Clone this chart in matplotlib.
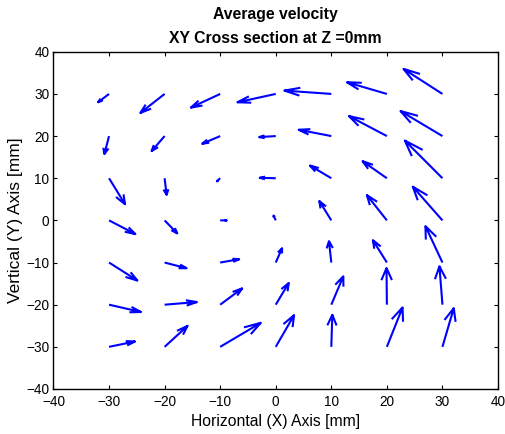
"""
Average velocity field, XY cross section at Z = 0 mm (quiver plot)
"""
import numpy as np
import matplotlib
matplotlib.use('Agg')
import matplotlib.pyplot as plt

plt.rcParams['font.family'] = ['Liberation Sans', 'DejaVu Sans']

# grid positions [mm]
x_pos = [-30, -20, -10, 0, 10, 20, 30]
y_pos = [30, 20, 10, 0, -10, -20, -30]

# horizontal velocity component (rows follow y_pos, columns follow x_pos)
u_30 = [-1.98, -4.37, -5.28, -6.90, -8.45, -7.19, -7.01]
u_20 = [-0.84, -2.34, -3.24, -3.00, -5.87, -6.83, -7.55]
u_10 = [2.88, 0.36, -0.60, -2.88, -3.84, -4.38, -6.77]
u_0 = [4.74, 2.28, 1.20, -0.40, -2.16, -3.60, -5.34]
u_m10 = [5.10, 3.96, 3.42, 1.14, -0.42, -2.52, -3.06]
u_m20 = [5.76, 5.82, 3.96, 2.34, 2.16, -0.06, -0.54]
u_m30 = [4.68, 4.14, 7.31, 3.30, 0.18, 2.82, 2.04]

# vertical velocity component
v_30 = [-1.98, -4.51, -3.25, -1.98, 0.79, 2.77, 5.94]
v_20 = [-4.27, -3.56, -1.82, -0.24, 1.50, 4.75, 5.94]
v_10 = [-6.18, -3.96, -0.75, 0.10, 3.00, 4.04, 8.94]
v_0 = [-3.25, -3.09, 0.00, 1.15, 4.59, 6.00, 8.00]
v_m10 = [-4.27, -1.35, 0.79, 3.40, 5.07, 5.30, 8.63]
v_m20 = [-1.74, 0.63, 3.88, 5.15, 6.73, 8.70, 9.10]
v_m30 = [1.27, 4.99, 5.70, 7.52, 7.60, 9.34, 9.18]

U = np.array([u_30, u_20, u_10, u_0, u_m10, u_m20, u_m30])
V = np.array([v_30, v_20, v_10, v_0, v_m10, v_m20, v_m30])
X, Y = np.meshgrid(x_pos, y_pos)

# open arrow heads built the same way as MATLAB's quiver
alpha, beta = 0.33, 0.33
eps = 1e-12
xs, ys = [], []
for x, y, u, v in zip(X.ravel(), Y.ravel(), U.ravel(), V.ravel()):
    xs += [x, x + u, np.nan]
    ys += [y, y + v, np.nan]
    xs += [x + u - alpha * (u + beta * (v + eps)), x + u,
           x + u - alpha * (u - beta * (v + eps)), np.nan]
    ys += [y + v - alpha * (v - beta * (u + eps)), y + v,
           y + v - alpha * (v + beta * (u + eps)), np.nan]

fig = plt.figure(figsize=(5.06, 4.34), dpi=100)
ax = fig.add_axes([0.1057, 0.1037, 0.8785, 0.777])
ax.plot(xs, ys, color='blue', linewidth=1.5, solid_capstyle='butt')

ax.set_xlim(-40, 40)
ax.set_ylim(-40, 40)
ax.set_xticks(range(-40, 41, 10))
ax.set_yticks(range(-40, 41, 10))
ax.tick_params(direction='in', length=3, width=0.8, top=True, right=True,
               labelsize=9.8)
ax.tick_params(axis='x', pad=4)
ax.tick_params(axis='y', pad=3)
for s in ax.spines.values():
    s.set_linewidth(1.0)

ax.set_title('Average velocity\nXY Cross section at Z =0mm',
             fontsize=11.3, fontweight='bold', pad=6, linespacing=1.75)
ax.set_xlabel('Horizontal (X) Axis [mm]', fontsize=11.3, labelpad=4)
ax.set_ylabel('Vertical (Y) Axis [mm]', fontsize=12.5, labelpad=2)

fig.savefig('out.png', dpi=100)
